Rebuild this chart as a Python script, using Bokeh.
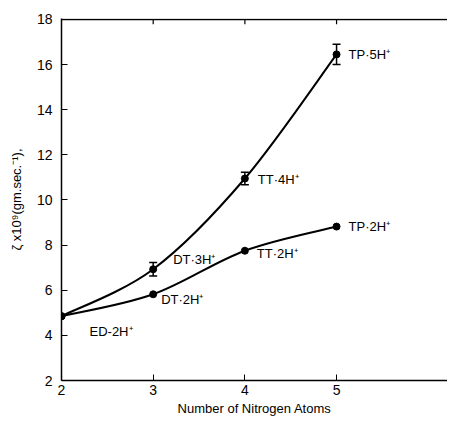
from bokeh.plotting import figure
from bokeh.models import Range1d, ColumnDataSource, Whisker, FixedTicker, Span
from bokeh.core.properties import value
from bokeh.embed import file_html
from bokeh.resources import INLINE

# Data
n_atoms = [2, 3, 4, 5]
upper_vals = [4.85, 6.93, 10.95, 16.45]
upper_err = [0.0, 0.3, 0.28, 0.45]
lower_vals = [4.85, 5.82, 7.75, 8.82]

upper_labels = ["DT·3H⁺", "TT·4H⁺", "TP·5H⁺"]
lower_labels = ["ED-2H⁺", "DT·2H⁺", "TT·2H⁺", "TP·2H⁺"]

x_ticks = [2, 3, 4, 5]
y_ticks = [2, 4, 6, 8, 10, 12, 14, 16, 18]
top_ticks = [3, 4, 5]

FONT = "Liberation Sans"

p = figure(width=447, height=418, output_backend="svg", toolbar_location=None,
           x_range=Range1d(2, 6.21), y_range=Range1d(2, 18.04),
           min_border_left=61, min_border_right=0, min_border_top=18,
           min_border_bottom=34, x_axis_label="Number of Nitrogen Atoms",
           y_axis_label="ζ x10⁹(gm.sec.⁻¹),")
p.outline_line_color = None
p.grid.visible = False
p.background_fill_color = "white"
p.border_fill_color = "white"

for ax in (p.xaxis[0], p.yaxis[0]):
    ax.axis_line_color = "black"
    ax.axis_line_width = 1.5
    ax.major_tick_in = 6
    ax.major_tick_out = 0
    ax.minor_tick_line_color = None
    ax.major_tick_line_color = "black"
    ax.major_label_text_font = FONT
    ax.major_label_text_font_size = "14px"
    ax.major_label_text_color = "black"
    ax.axis_label_text_font = FONT
    ax.axis_label_text_font_size = "13px"
    ax.axis_label_text_font_style = "normal"
    ax.axis_label_text_color = "black"

p.xaxis[0].ticker = FixedTicker(ticks=x_ticks)
p.yaxis[0].ticker = FixedTicker(ticks=y_ticks)
p.xaxis[0].major_label_standoff = 4
p.xaxis[0].axis_label_standoff = 3
p.yaxis[0].major_label_standoff = 9
p.yaxis[0].axis_label_standoff = 10

# top frame line with small inward ticks
p.add_layout(Span(location=18, dimension="width", line_color="black", line_width=1.5))
p.segment(x0=top_ticks, x1=top_ticks, y0=[18] * len(top_ticks), y1=[17.78] * len(top_ticks),
          line_color="black", line_width=1.2)


def catmull_bezier(xs, ys):
    x0s, y0s, x1s, y1s, cx0, cy0, cx1, cy1 = [], [], [], [], [], [], [], []
    n = len(xs)
    for i in range(n - 1):
        xm = xs[i - 1] if i > 0 else xs[i]
        ym = ys[i - 1] if i > 0 else ys[i]
        xp = xs[i + 2] if i + 2 < n else xs[i + 1]
        yp = ys[i + 2] if i + 2 < n else ys[i + 1]
        x0s.append(xs[i]); y0s.append(ys[i])
        x1s.append(xs[i + 1]); y1s.append(ys[i + 1])
        cx0.append(xs[i] + (xs[i + 1] - xm) / 6)
        cy0.append(ys[i] + (ys[i + 1] - ym) / 6)
        cx1.append(xs[i + 1] - (xp - xs[i]) / 6)
        cy1.append(ys[i + 1] - (yp - ys[i]) / 6)
    return dict(x0=x0s, y0=y0s, x1=x1s, y1=y1s, cx0=cx0, cy0=cy0, cx1=cx1, cy1=cy1)


for vals in (upper_vals, lower_vals):
    b = catmull_bezier(n_atoms, vals)
    p.bezier(x0="x0", y0="y0", x1="x1", y1="y1", cx0="cx0", cy0="cy0",
             cx1="cx1", cy1="cy1", source=ColumnDataSource(b),
             line_color="black", line_width=2)

p.scatter(n_atoms, upper_vals, size=7, color="black")
p.scatter(n_atoms, lower_vals, size=7, color="black")

err_src = ColumnDataSource(dict(
    x=n_atoms[1:],
    lo=[v - e for v, e in zip(upper_vals[1:], upper_err[1:])],
    hi=[v + e for v, e in zip(upper_vals[1:], upper_err[1:])]))
w = Whisker(base="x", lower="lo", upper="hi", source=err_src, dimension="height",
            line_color="black", line_width=1.5)
for h in (w.upper_head, w.lower_head):
    h.size = 8
    h.line_color = "black"
    h.line_width = 1.5
p.add_layout(w)

# annotation offsets (screen px)
up_dx = [20, 13, 12]
up_dy = [-10, 1, 0]
lo_dx = [28, 8, 12, 12]
lo_dy = [15, 5, 3, 0]

up_src = ColumnDataSource(dict(x=n_atoms[1:], y=upper_vals[1:], t=upper_labels, dx=up_dx, dy=up_dy))
lo_src = ColumnDataSource(dict(x=n_atoms, y=lower_vals, t=lower_labels, dx=lo_dx, dy=lo_dy))
for src in (up_src, lo_src):
    p.text(x="x", y="y", text="t", x_offset="dx", y_offset="dy", source=src,
           text_font=value(FONT), text_font_size="13px", text_baseline="middle",
           text_align="left", text_color="black")

open("out.html", "w").write(file_html(p, INLINE))
